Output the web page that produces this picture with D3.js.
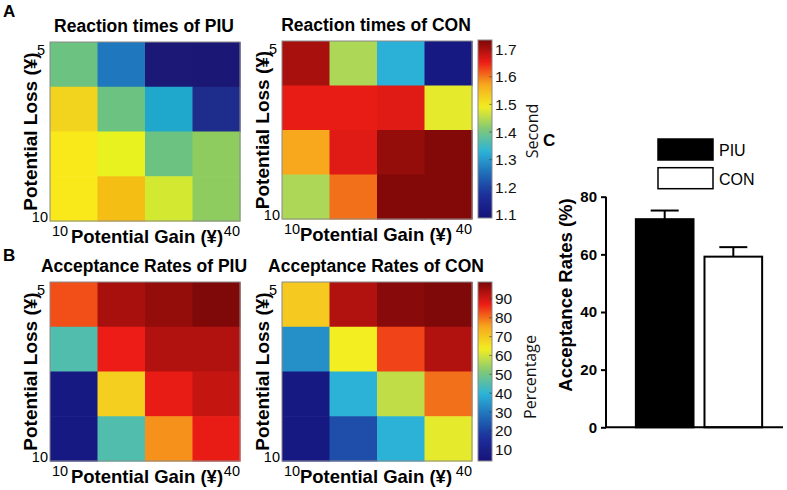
<!DOCTYPE html>
<html>
<head>
<meta charset="utf-8">
<script src="https://cdn.jsdelivr.net/npm/d3@7"></script>
<style>
  html, body { margin: 0; padding: 0; background: #fff; }
  svg { display: block; }
</style>
</head>
<body>
<svg id="chart" width="787" height="490"></svg>
<script>
// ---------------- DATA ----------------
const gainCats = ["G1", "G2", "G3", "G4"];          // potential gain levels (10 ... 40)
const lossCats = ["L1", "L2", "L3", "L4"];          // potential loss levels (5 ... 10)
const gainTickLabels = ["10", "40"];
const lossTickLabels = ["5", "10"];

// rows: loss 5 -> 10 ; columns: gain 10 -> 40
const rtPIU = [
  [1.443, 1.282, 1.100, 1.095],
  [1.694, 1.443, 1.359, 1.153],
  [1.730, 1.604, 1.443, 1.488],
  [1.730, 1.656, 1.553, 1.488]
];
const rtCON = [
  [1.701, 1.443, 1.327, 1.108],
  [1.656, 1.656, 1.662, 1.482],
  [1.572, 1.662, 1.714, 1.727],
  [1.443, 1.604, 1.727, 1.727]
];
const accPIU = [
  [82.9, 94.3, 96.2, 98.5],
  [44.9, 87.1, 93.3, 93.3],
  [6.9, 68.6, 87.6, 91.4],
  [6.9, 44.9, 77.2, 87.6]
];
const accCON = [
  [69.6, 93.3, 97.6, 98.5],
  [33.5, 63.4, 83.8, 93.3],
  [6.9, 39.2, 58.2, 80.0],
  [6.9, 22.0, 39.2, 62.0]
];

const rtDomain = [1.089, 1.733];
const rtTicks = [1.1, 1.2, 1.3, 1.4, 1.5, 1.6, 1.7];
const accDomain = [4, 99];
const accTicks = [10, 20, 30, 40, 50, 60, 70, 80, 90];

const groups = ["PIU", "CON"];
const groupMeans = [72.2, 59.2];
const groupSEM = [3.0, 3.3];
const barTicks = [0, 20, 40, 60, 80];

// colormaps (normalized position -> colour)
const jetStops = [0, 0.125, 0.25, 0.375, 0.5, 0.625, 0.75, 0.875, 1];
const jetColors = ["#16127a", "#1c2e9a", "#1f6cb8", "#2cb4d8", "#80c878", "#f2ee22", "#f7a81c", "#ee1c16", "#7a0808"];
const parStops = [0, 0.10, 0.30, 0.42, 0.55, 0.62, 0.72, 0.80, 0.88, 0.94, 1];
const parColors = ["#1b1572", "#1e2c8c", "#1f78bd", "#1fa8cb", "#6cc280", "#8fcc5f", "#d2e831", "#e8f21e", "#f5be14", "#f2d41e", "#faeb1b"];

// ---------------- DRAW ----------------
const svg = d3.select("#chart");
const BOLD = "'Liberation Sans', Arial, Helvetica, sans-serif";
const NUM = "'Liberation Sans', Arial, sans-serif";
const THIN = "'Open Sans', 'DejaVu Sans', sans-serif";

const jet = d3.scaleLinear().domain(jetStops).range(jetColors).interpolate(d3.interpolateRgb).clamp(true);
const parula = d3.scaleLinear().domain(parStops).range(parColors).interpolate(d3.interpolateRgb).clamp(true);

function heatmap(opt) {
  const g = svg.append("g");
  const x = d3.scaleBand().domain(gainCats).range([opt.x0, opt.x1]);
  const y = d3.scaleBand().domain(lossCats).range([opt.y0, opt.y1]);
  const norm = d3.scaleLinear().domain(opt.domain).range([0, 1]);
  const cells = [];
  opt.values.forEach((row, i) => row.forEach((v, j) => cells.push({ l: lossCats[i], g: gainCats[j], v })));
  g.selectAll("rect.cell").data(cells).join("rect")
    .attr("class", "cell")
    .attr("x", d => x(d.g)).attr("y", d => y(d.l))
    .attr("width", x.bandwidth() + 0.6).attr("height", y.bandwidth() + 0.6)
    .attr("fill", d => opt.cmap(norm(d.v)));
  g.append("rect").attr("x", opt.x0).attr("y", opt.y0)
    .attr("width", opt.x1 - opt.x0).attr("height", opt.y1 - opt.y0)
    .attr("fill", "none").attr("stroke", "#8a8a8a").attr("stroke-width", 1);

  // title
  g.append("text").attr("x", (opt.x0 + opt.x1) / 2 - 1).attr("y", opt.y0 - 10)
    .attr("text-anchor", "middle").attr("font-family", BOLD).attr("font-weight", "bold")
    .attr("font-size", 17.5).text(opt.title);

  // x ticks
  g.append("text").attr("x", opt.x0 + 2).attr("y", opt.y1 + 15)
    .attr("font-family", NUM).attr("font-size", 14.5).text(gainTickLabels[0]);
  g.append("text").attr("x", opt.x1).attr("y", opt.y1 + 15).attr("text-anchor", "end")
    .attr("font-family", NUM).attr("font-size", 14.5).text(gainTickLabels[1]);
  g.append("text").attr("x", (opt.x0 + opt.x1) / 2 + opt.glabDx).attr("y", opt.y1 + 22)
    .attr("text-anchor", "middle").attr("font-family", BOLD).attr("font-weight", "bold")
    .attr("font-size", 18.5).text("Potential Gain (¥)");

  // y ticks
  g.append("text").attr("x", opt.x0 - 5).attr("y", opt.y0 + 13).attr("text-anchor", "end")
    .attr("font-family", NUM).attr("font-size", 14.5).text(lossTickLabels[0]);
  g.append("text").attr("x", opt.x0 - 2).attr("y", opt.y1 + 1).attr("text-anchor", "end")
    .attr("font-family", NUM).attr("font-size", 14.5).text(lossTickLabels[1]);
  g.append("text")
    .attr("transform", `translate(${opt.x0 - 13.5},${(opt.y0 + opt.y1) / 2}) rotate(-90)`)
    .attr("text-anchor", "middle").attr("font-family", BOLD).attr("font-weight", "bold")
    .attr("font-size", 19).text("Potential Loss (¥)");
}

function colorbar(opt) {
  const id = "grad" + opt.id;
  const grad = svg.append("defs").append("linearGradient").attr("id", id)
    .attr("x1", 0).attr("y1", 1).attr("x2", 0).attr("y2", 0);
  d3.range(0, 1.0001, 0.02).forEach(t => grad.append("stop").attr("offset", t).attr("stop-color", jet(t)));
  const s = d3.scaleLinear().domain(opt.domain).range([opt.y1, opt.y0]);
  svg.append("rect").attr("x", opt.x0).attr("y", opt.y0).attr("width", opt.x1 - opt.x0)
    .attr("height", opt.y1 - opt.y0).attr("fill", `url(#${id})`)
    .attr("stroke", "#8a8a8a").attr("stroke-width", 1);
  const tk = svg.append("g");
  tk.selectAll("line").data(opt.ticks).join("line")
    .attr("x1", opt.x1 - 3).attr("x2", opt.x1).attr("y1", d => s(d)).attr("y2", d => s(d))
    .attr("stroke", "#333").attr("stroke-opacity", 0.5);
  tk.selectAll("text").data(opt.ticks).join("text")
    .attr("x", opt.x1 + 3).attr("y", d => s(d) + 5.5)
    .attr("font-family", NUM).attr("font-size", 15.5).attr("fill", "#111")
    .text(d => opt.fmt(d));
  svg.append("text").attr("transform", `translate(${opt.labX},${opt.labY}) rotate(-90)`)
    .attr("text-anchor", "middle").attr("font-family", THIN).attr("font-size", 16)
    .attr("fill", "#111").text(opt.label);
}

heatmap({ x0: 50, x1: 240, y0: 42, y1: 221, values: rtPIU, domain: rtDomain, cmap: parula,
  title: "Reaction times of PIU", glabDx: 2 });
heatmap({ x0: 282, x1: 472, y0: 41, y1: 219, values: rtCON, domain: rtDomain, cmap: jet,
  title: "Reaction times of CON", glabDx: -1 });
heatmap({ x0: 50, x1: 240, y0: 282, y1: 461, values: accPIU, domain: accDomain, cmap: jet,
  title: "Acceptance Rates of PIU", glabDx: 2 });
heatmap({ x0: 282, x1: 472, y0: 282, y1: 461, values: accCON, domain: accDomain, cmap: jet,
  title: "Acceptance Rates of CON", glabDx: -1 });

colorbar({ id: "A", x0: 478, x1: 492, y0: 40, y1: 218, domain: rtDomain, ticks: rtTicks,
  fmt: d3.format(".1f"), label: "Second", labX: 538, labY: 131 });
colorbar({ id: "B", x0: 478, x1: 492, y0: 282, y1: 461, domain: accDomain, ticks: accTicks,
  fmt: d3.format("d"), label: "Percentage", labX: 536, labY: 377 });

// panel letters
[["A", 3, 17], ["B", 3, 261], ["C", 543, 146]].forEach(([t, x, y]) =>
  svg.append("text").attr("x", x).attr("y", y).attr("font-family", BOLD).attr("font-weight", "bold")
    .attr("font-size", 17).text(t));

// ---------------- BAR CHART ----------------
const yb = d3.scaleLinear().domain([0, 80]).range([427.3, 196.7]);
const xb = d3.scaleBand().domain(groups).range([629, 769]).paddingInner(0.16).paddingOuter(0.1);
const bar = svg.append("g");
const fills = { PIU: "#000", CON: "#fff" };

bar.selectAll("rect.bar").data(groups).join("rect").attr("class", "bar")
  .attr("x", d => xb(d)).attr("width", xb.bandwidth())
  .attr("y", (d, i) => yb(groupMeans[i])).attr("height", (d, i) => yb(0) - yb(groupMeans[i]))
  .attr("fill", d => fills[d]).attr("stroke", "#000").attr("stroke-width", 2);

groups.forEach((gname, i) => {
  const cx = xb(gname) + xb.bandwidth() / 2;
  bar.append("line").attr("x1", cx).attr("x2", cx)
    .attr("y1", yb(groupMeans[i])).attr("y2", yb(groupMeans[i] + groupSEM[i]))
    .attr("stroke", "#000").attr("stroke-width", 2);
  bar.append("line").attr("x1", cx - 14).attr("x2", cx + 14)
    .attr("y1", yb(groupMeans[i] + groupSEM[i])).attr("y2", yb(groupMeans[i] + groupSEM[i]))
    .attr("stroke", "#000").attr("stroke-width", 2);
});

const axis = d3.axisLeft(yb).tickValues(barTicks).tickSize(5).tickPadding(4).tickFormat(d3.format("d"));
const ax = bar.append("g").attr("transform", "translate(606,0)").call(axis);
ax.select(".domain").attr("stroke", "#000").attr("stroke-width", 2).attr("d", `M0,${yb(80)}V${yb(0)}`);
ax.selectAll(".tick line").attr("stroke", "#000").attr("stroke-width", 2);
ax.selectAll(".tick text").attr("font-family", BOLD).attr("font-weight", "bold").attr("font-size", 15).attr("fill", "#000");
bar.append("line").attr("x1", 605).attr("x2", 783).attr("y1", yb(0)).attr("y2", yb(0))
  .attr("stroke", "#000").attr("stroke-width", 2);

bar.append("text").attr("transform", `translate(572,${(yb(0) + yb(80)) / 2 - 17}) rotate(-90)`)
  .attr("text-anchor", "middle").attr("font-family", BOLD).attr("font-weight", "bold")
  .attr("font-size", 18.5).text("Acceptance Rates (%)");

// legend
groups.forEach((gname, i) => {
  const ly = 139 + i * 28.7;
  bar.append("rect").attr("x", 658).attr("y", ly).attr("width", 55).attr("height", 21)
    .attr("fill", fills[gname]).attr("stroke", "#000").attr("stroke-width", 1.5);
  bar.append("text").attr("x", 719).attr("y", ly + 17).attr("font-family", BOLD)
    .attr("font-size", 16).text(gname);
});
</script>
</body>
</html>
